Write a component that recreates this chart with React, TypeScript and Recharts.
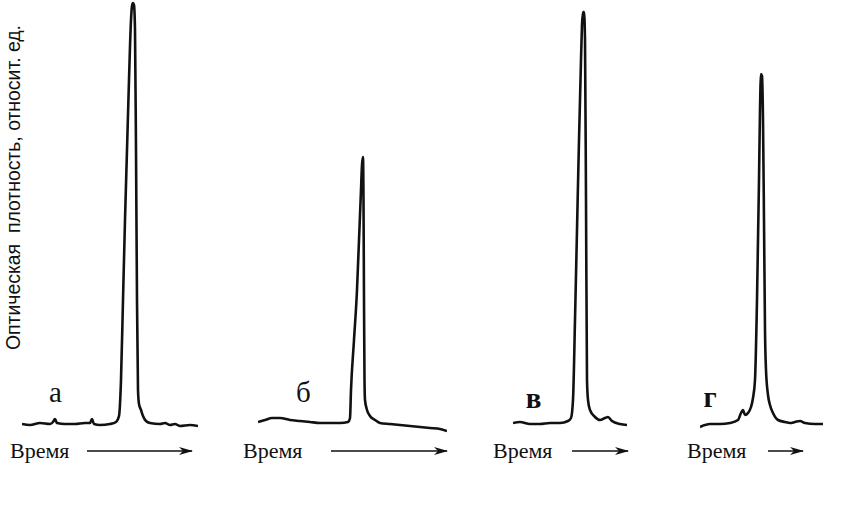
import { LineChart, Line, XAxis, YAxis } from 'recharts'

// time in arbitrary units, optical density in relative units
const timeA = [0, 4, 9, 14, 15.5, 16.5, 17.5, 21.5, 26.5, 31.5, 34, 35, 36, 39, 44, 47, 48.5, 49.5, 50.5, 51.5, 52.5, 53.5, 54.5, 55, 55.5, 56, 56.5, 57, 57.5, 58, 58.5, 59.5, 60.5, 62, 64, 69, 71.5, 74, 76.5, 79, 84, 88]
const densA = [4, 3.75, 4.25, 4, 4.5, 5.25, 4.25, 4, 4, 4.25, 4.25, 5.25, 4, 3.75, 4, 4.5, 6, 15, 35, 55, 72.5, 90, 105, 108.5, 109.25, 108.75, 102.5, 72.5, 35, 12.5, 9, 7.5, 6, 4.75, 4.25, 4, 4.25, 3.75, 4, 3.5, 3.75, 3.5]

const timeB = [0, 3.5, 7, 11, 16, 21, 26, 31, 36, 41, 45, 46, 46.5, 48, 49.5, 50.5, 51.5, 52, 52.5, 52.75, 53, 53.25, 53.5, 54.5, 56, 58.5, 61, 66, 71, 76, 81, 86, 91, 94.5]
const densB = [4.5, 5, 5.5, 5.5, 5, 4.75, 4.5, 4.25, 4.25, 4.25, 4.5, 5.5, 12.5, 25, 37.5, 50, 62.5, 68.75, 70.75, 60, 35, 15, 10, 7.5, 6, 5, 4.25, 4, 3.75, 3.5, 3.25, 3, 2.75, 2.25]

const timeV = [0, 3.5, 8.5, 13.5, 18.5, 23.5, 27.5, 29, 30, 31, 32, 33, 34, 34.5, 35, 35.5, 36, 36.5, 37, 37.5, 38.5, 41, 43.5, 46, 47.5, 49.5, 53.5, 57]
const densV = [4.25, 4.5, 4, 4, 4.25, 4.25, 4.75, 5.5, 10, 30, 52.5, 75, 95, 103.75, 107, 107, 100, 60, 15, 10, 7.5, 5.75, 5, 5.5, 5.75, 4.75, 4, 3.75]

const timeG = [0, 5, 10, 15, 19, 20.5, 21.5, 22.5, 24, 25.5, 26.5, 27.5, 28.5, 29.5, 30, 30.5, 31, 31.5, 32, 32.5, 33, 34, 35, 36.5, 39, 42.5, 45, 47.5, 50, 52.5, 57.5, 61.5]
const densG = [3.25, 4, 4, 4.25, 5, 6.75, 7.5, 6.25, 6.75, 8.25, 10.5, 15, 35, 65, 82.5, 91.5, 91, 80, 55, 27.5, 17.5, 11.25, 8.75, 6.75, 5, 4.5, 4.25, 4.5, 4.75, 4.25, 4, 4]

const panelLabels = ['а', 'б', 'в', 'г']
const axisTitle = 'Время'
const yTitle = 'Оптическая  плотность, относит. ед.'

const toRows = (t: number[], d: number[]) => t.map((v, i) => ({ t: v, d: d[i] }))

const panels = [
  { rows: toRows(timeA, densA), left: 22, span: 88, label: { x: 55.5, y: 402, bold: false }, title: 10, arrow: [87, 192] },
  { rows: toRows(timeB, densB), left: 258, span: 94.5, label: { x: 303.5, y: 402, bold: false }, title: 243, arrow: [331, 447] },
  { rows: toRows(timeV, densV), left: 513, span: 57, label: { x: 533.5, y: 408, bold: true }, title: 493, arrow: [572, 628] },
  { rows: toRows(timeG, densG), left: 700, span: 61.5, label: { x: 710, y: 407, bold: true }, title: 687, arrow: [768, 803] },
]

const PX_PER_UNIT = 2
const PLOT_H = 440
const SERIF = "'Liberation Serif', 'Times New Roman', 'DejaVu Serif', serif"
const SANS = "'Liberation Sans', Arial, sans-serif"

function Trace({ rows, span }: { rows: { t: number; d: number }[]; span: number }) {
  return (
    <LineChart width={span * PX_PER_UNIT} height={PLOT_H} data={rows} margin={{ top: 0, right: 0, bottom: 0, left: 0 }}>
      <XAxis type="number" dataKey="t" domain={[0, span]} hide />
      <YAxis type="number" domain={[0, 110]} hide />
      <Line
        type="monotone"
        dataKey="d"
        stroke="#111"
        strokeWidth={2.6}
        dot={false}
        isAnimationActive={false}
        strokeLinejoin="round"
      />
    </LineChart>
  )
}

export default function App() {
  return (
    <div style={{ position: 'absolute', left: 0, top: 0, width: 843, height: 509, background: '#fff' }}>
      {panels.map((p, i) => (
        <div key={i} style={{ position: 'absolute', left: p.left, top: 0 }}>
          <Trace rows={p.rows} span={p.span} />
        </div>
      ))}
      <svg width={843} height={509} style={{ position: 'absolute', left: 0, top: 0, pointerEvents: 'none' }}>
        <defs>
          <marker id="head" markerWidth="14" markerHeight="8" refX="13" refY="4" orient="auto" markerUnits="userSpaceOnUse">
            <path d="M0,0 L14,4 L0,8 L4,4 Z" fill="#111" />
          </marker>
        </defs>
        <text
          transform="translate(20,350) rotate(-90)"
          textLength={325}
          lengthAdjust="spacingAndGlyphs"
          style={{ whiteSpace: 'pre', fontFamily: SANS, fontSize: 19.5, fill: '#111' }}
        >
          {yTitle}
        </text>
        {panels.map((p, i) => (
          <g key={i}>
            <text
              x={p.label.x}
              y={p.label.y}
              textAnchor="middle"
              style={{ fontFamily: SERIF, fontSize: 29, fontWeight: p.label.bold ? 'bold' : 'normal', fill: '#111' }}
            >
              {panelLabels[i]}
            </text>
            <text x={p.title} y={458} style={{ fontFamily: SERIF, fontSize: 22, fill: '#111' }}>
              {axisTitle}
            </text>
            <line x1={p.arrow[0]} y1={451} x2={p.arrow[1]} y2={451} stroke="#111" strokeWidth={1.5} markerEnd="url(#head)" />
          </g>
        ))}
      </svg>
    </div>
  )
}
